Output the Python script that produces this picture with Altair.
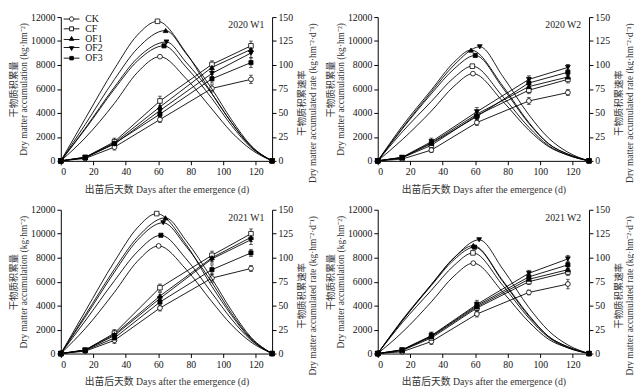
import altair as alt
import pandas as pd

FONT = "Liberation Serif, Noto Sans CJK SC, serif"
series = ["CK", "CF", "OF1", "OF2", "OF3"]
panel_names = ["2020 W1", "2020 W2", "2021 W1", "2021 W2"]
acc_days = [0, 15, 33, 61, 93, 117]

# ---- dry matter accumulation (kg/hm2) ----
acc_2020_w1 = {"CK": [0, 200, 1150, 3450, 6050, 6800], "CF": [0, 300, 1600, 5000, 8050, 9600],
               "OF1": [0, 300, 1500, 4500, 7800, 9300], "OF2": [0, 280, 1400, 4200, 7300, 9000],
               "OF3": [0, 250, 1450, 3900, 6850, 8200]}
acc_2020_w2 = {"CK": [0, 150, 900, 3200, 5000, 5700], "CF": [0, 250, 1300, 3800, 5900, 6800],
               "OF1": [0, 280, 1500, 3900, 6200, 7000], "OF2": [0, 300, 1600, 4100, 6800, 7800],
               "OF3": [0, 270, 1450, 3700, 6500, 7400]}
acc_2021_w1 = {"CK": [0, 200, 1100, 3800, 6300, 7100], "CF": [0, 300, 1700, 5500, 8200, 10000],
               "OF1": [0, 300, 1600, 4800, 8000, 9700], "OF2": [0, 280, 1500, 4600, 7900, 9500],
               "OF3": [0, 250, 1300, 4300, 7000, 8400]}
acc_2021_w2 = {"CK": [0, 150, 1000, 3300, 5100, 5800], "CF": [0, 250, 1300, 3800, 6000, 6800],
               "OF1": [0, 300, 1400, 3900, 6200, 7000], "OF2": [0, 320, 1500, 4100, 6700, 7900],
               "OF3": [0, 280, 1450, 4000, 6400, 7400]}

# ---- error bars (kg/hm2) ----
err_2020_w1 = {"CK": [0, 60, 250, 250, 300, 350], "CF": [0, 80, 300, 400, 300, 400],
               "OF1": [0, 80, 300, 350, 350, 350], "OF2": [0, 70, 250, 300, 300, 400],
               "OF3": [0, 70, 250, 300, 350, 400]}
err_2020_w2 = {"CK": [0, 60, 200, 250, 300, 250], "CF": [0, 80, 250, 300, 300, 300],
               "OF1": [0, 80, 300, 300, 300, 250], "OF2": [0, 80, 300, 350, 300, 250],
               "OF3": [0, 70, 250, 300, 300, 250]}
err_2021_w1 = {"CK": [0, 60, 250, 250, 350, 250], "CF": [0, 80, 300, 300, 350, 400],
               "OF1": [0, 80, 300, 300, 300, 350], "OF2": [0, 70, 300, 300, 350, 400],
               "OF3": [0, 70, 300, 350, 400, 300]}
err_2021_w2 = {"CK": [0, 80, 250, 250, 200, 400], "CF": [0, 100, 300, 300, 250, 300],
               "OF1": [0, 100, 300, 300, 250, 300], "OF2": [0, 100, 300, 350, 250, 300],
               "OF3": [0, 100, 300, 300, 250, 300]}

# ---- accumulated rate curves (kg/hm2/d): knots at days 0,15,33,47,peak,77,93,105,117,130 ----
peak_2020_w1 = {"CK": 61, "CF": 59.5, "OF1": 64.5, "OF2": 65, "OF3": 63.5}
rate_2020_w1 = {"CK": [0, 24, 60, 92, 108.7, 86, 54, 30, 12, 0], "CF": [0, 44, 96, 131, 145.6, 113, 70, 40, 15, 0],
                "OF1": [0, 38, 85, 117, 136, 112, 75, 43, 16, 0], "OF2": [0, 34, 77, 107, 124, 103, 70, 40, 15, 0],
                "OF3": [0, 33, 75, 104, 120, 98, 65, 37, 14, 0]}
peak_2020_w2 = {"CK": 58.6, "CF": 58.2, "OF1": 57.4, "OF2": 62.8, "OF3": 60}
rate_2020_w2 = {"CK": [0, 22, 52, 78, 91, 62, 32, 15, 6, 0], "CF": [0, 30, 62, 87, 98.8, 67, 35, 16, 6, 0],
                "OF1": [0, 36, 74, 103, 115.6, 78, 40, 18, 7, 0], "OF2": [0, 34, 72, 100, 119, 88, 48, 24, 9, 0],
                "OF3": [0, 33, 70, 96, 110, 76, 39, 18, 7, 0]}
peak_2021_w1 = {"CK": 60.2, "CF": 59, "OF1": 64.4, "OF2": 63, "OF3": 61.6}
rate_2021_w1 = {"CK": [0, 26, 64, 96, 112.3, 88, 54, 30, 12, 0], "CF": [0, 44, 96, 131, 146, 114, 70, 40, 15, 0],
                "OF1": [0, 40, 88, 121, 141.6, 118, 78, 45, 17, 0], "OF2": [0, 38, 85, 118, 136.5, 112, 74, 42, 16, 0],
                "OF3": [0, 34, 76, 106, 123.4, 99, 63, 36, 14, 0]}
peak_2021_w2 = {"CK": 58.8, "CF": 58.6, "OF1": 58.8, "OF2": 62.4, "OF3": 59.5}
rate_2021_w2 = {"CK": [0, 22, 54, 81, 94.3, 64, 33, 15, 6, 0], "CF": [0, 32, 66, 92, 105, 71, 37, 17, 6, 0],
                "OF1": [0, 35, 72, 100, 112.7, 76, 40, 18, 7, 0], "OF2": [0, 34, 72, 100, 118.7, 88, 48, 24, 9, 0],
                "OF3": [0, 34, 71, 98, 111, 75, 39, 18, 7, 0]}
rate_knots = [0, 15, 33, 47, None, 77, 93, 105, 117, 130]

panel_data = {
    "2020 W1": (acc_2020_w1, err_2020_w1, peak_2020_w1, rate_2020_w1),
    "2020 W2": (acc_2020_w2, err_2020_w2, peak_2020_w2, rate_2020_w2),
    "2021 W1": (acc_2021_w1, err_2021_w1, peak_2021_w1, rate_2021_w1),
    "2021 W2": (acc_2021_w2, err_2021_w2, peak_2021_w2, rate_2021_w2),
}

marker_shape = {"CK": "circle", "CF": "square", "OF1": "triangle-up", "OF2": "triangle-down", "OF3": "square"}
marker_fill = {"CK": "white", "CF": "white", "OF1": "black", "OF2": "black", "OF3": "black"}
marker_size = {"CK": 24, "CF": 22, "OF1": 24, "OF2": 24, "OF3": 18}

# legend symbols: marker with a short line on each side
legend_paths = [
    "M-1.8,0H-0.5M0.5,0H1.8M-0.5,0A0.5,0.5 0 1,1 0.5,0A0.5,0.5 0 1,1 -0.5,0Z",
    "M-1.8,0H-0.45M0.45,0H1.8M-0.45,-0.45H0.45V0.45H-0.45Z",
    "M-1.8,0.2H1.8M0,-0.5L0.5,0.4L-0.5,0.4Z",
    "M-1.8,-0.2H1.8M0,0.5L0.5,-0.4L-0.5,-0.4Z",
    "M-1.8,0H1.8M-0.4,-0.4H0.4V0.4H-0.4Z",
]

W, H = 216, 147
TITLE_FS = 9.6

xaxis = alt.Axis(title="出苗后天数 Days after the emergence (d)", values=[0, 20, 40, 60, 80, 100, 120],
                 tickSize=4, labelPadding=2, titlePadding=8, titleFontSize=10)
left_axis = alt.Axis(orient="left", title=["干物质积累量", "Dry matter accumulation (kg·hm⁻²)"],
                     values=[0, 2000, 4000, 6000, 8000, 10000, 12000], format="d", tickSize=4,
                     labelPadding=2, titlePadding=2, titleFontSize=TITLE_FS)
right_axis = alt.Axis(orient="right", title=["干物质积累速率", "Dry matter accumulated rate (kg·hm⁻²·d⁻¹)"],
                      values=[0, 25, 50, 75, 100, 125, 150], format="d", tickSize=4, labelPadding=2,
                      titlePadding=4, titleAngle=270, titleFontSize=TITLE_FS, titleY=H / 2 + 14)

xs = alt.Scale(domain=[0, 130], nice=False)
ys_acc = alt.Scale(domain=[0, 12000], nice=False)
ys_rate = alt.Scale(domain=[0, 150], nice=False)

LEG = dict(orient="none", legendX=6, legendY=-3, symbolSize=80, symbolStrokeColor="black",
           symbolStrokeWidth=0.9, symbolOpacity=1, labelFont=FONT, labelFontSize=10,
           labelOffset=9, rowPadding=0, labelColor="#111")


def panel(name, with_legend):
    acc, err, peak, rate = panel_data[name]
    rows, caps, rrows = [], [], []
    for s in series:
        for d, v, e in zip(acc_days, acc[s], err[s]):
            rows.append({"series": s, "day": d, "acc": v, "lo": v - e, "hi": v + e})
            caps.append({"series": s, "day": d, "y": v - e})
            caps.append({"series": s, "day": d, "y": v + e})
        for i, (d, v) in enumerate(zip(rate_knots, rate[s])):
            day = peak[s] if d is None else d
            rrows.append({"series": s, "day": day, "rate": v, "i": i, "mark": i in (0, 4, 9)})
    adf = pd.DataFrame(rows)
    cdf = pd.DataFrame(caps)
    rdf = pd.DataFrame(rrows)

    X = alt.X("day:Q", scale=xs, axis=xaxis)
    acc_layers = [
        alt.Chart(adf).mark_rule(color="black", strokeWidth=0.8).encode(
            x=X, y=alt.Y("lo:Q", scale=ys_acc, axis=left_axis), y2="hi:Q"),
        alt.Chart(cdf).mark_tick(color="black", orient="horizontal", size=4, thickness=0.8).encode(
            x=X, y=alt.Y("y:Q", scale=ys_acc, axis=left_axis)),
        alt.Chart(adf).mark_line(color="black", strokeWidth=0.9).encode(
            x=X, y=alt.Y("acc:Q", scale=ys_acc, axis=left_axis), detail="series:N", order="day:Q"),
    ]
    for s in series:
        acc_layers.append(
            alt.Chart(adf).transform_filter(alt.datum.series == s).mark_point(
                shape=marker_shape[s], filled=True, fill=marker_fill[s], stroke="black",
                strokeWidth=0.8, size=marker_size[s], opacity=1).encode(
                x=X, y=alt.Y("acc:Q", scale=ys_acc, axis=left_axis)))
    acc_layers.append(
        alt.Chart(pd.DataFrame({"label": [name]})).mark_text(
            align="right", baseline="top", font=FONT, fontSize=10, color="#222").encode(
            x=alt.value(W - 8), y=alt.value(3), text="label:N"))
    if with_legend:
        acc_layers.append(
            alt.Chart(adf).mark_point(filled=False, color="black", strokeWidth=0.9).encode(
                x=X, y=alt.Y("acc:Q", scale=ys_acc, axis=left_axis),
                opacity=alt.value(0),
                shape=alt.Shape("series:N", scale=alt.Scale(domain=series, range=legend_paths), title=None,
                                legend=alt.Legend(**LEG)),
                fill=alt.Fill("series:N", scale=alt.Scale(domain=series,
                                                          range=["white", "white", "black", "black", "black"]),
                              title=None, legend=alt.Legend(**LEG)),
                stroke=alt.Stroke("series:N", scale=alt.Scale(domain=series, range=["black"] * 5),
                                  title=None, legend=alt.Legend(**LEG))))

    rate_layers = [
        alt.Chart(rdf).mark_line(color="black", strokeWidth=0.9, interpolate="monotone").encode(
            x=X, y=alt.Y("rate:Q", scale=ys_rate, axis=right_axis), detail="series:N", order="i:Q"),
    ]
    for s in series:
        rate_layers.append(
            alt.Chart(rdf).transform_filter((alt.datum.series == s) & alt.datum.mark).mark_point(
                shape=marker_shape[s], filled=True, fill=marker_fill[s], stroke="black",
                strokeWidth=0.8, size=marker_size[s], opacity=1).encode(
                x=X, y=alt.Y("rate:Q", scale=ys_rate, axis=right_axis)))

    return alt.layer(alt.layer(*acc_layers), alt.layer(*rate_layers)).resolve_scale(
        y="independent").properties(width=W, height=H)


top = alt.hconcat(panel("2020 W1", True), panel("2020 W2", False), spacing=8)
bottom = alt.hconcat(panel("2021 W1", False), panel("2021 W2", False), spacing=8)
chart = alt.vconcat(top, bottom, spacing=11).properties(padding=0).configure_axis(
    labelFont=FONT, labelFontSize=10, titleFont=FONT, titleFontWeight="normal",
    domainColor="black", tickColor="black", labelColor="#111", titleColor="#333", grid=False,
    titleLineHeight=10.5, domainWidth=1, tickWidth=1,
).configure_view(stroke=None)

chart.save("out.html", embed_options={"renderer": "svg", "actions": False})
